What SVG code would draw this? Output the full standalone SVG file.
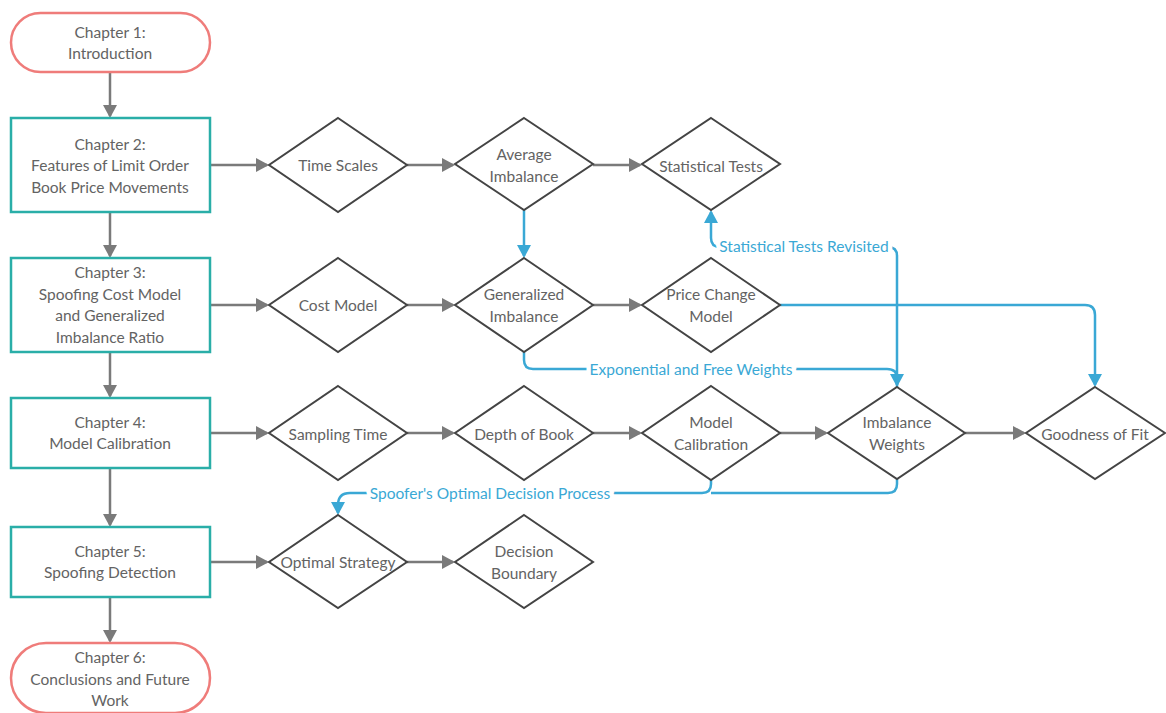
<svg xmlns="http://www.w3.org/2000/svg" width="1166" height="713" viewBox="0 0 1166 713">
<defs>
<style>
.pill{fill:#fff;stroke:#ef7c7a;stroke-width:2.5}
.box{fill:#fff;stroke:#2aaea8;stroke-width:2.5}
.dia{fill:#fff;stroke:#444;stroke-width:2}
.t{font-family:Lato,"Liberation Sans",sans-serif;font-size:15.5px;fill:#636363;text-anchor:middle}
.g{fill:none;stroke:#7a7a7a;stroke-width:2.5;marker-end:url(#ag)}
.b{fill:none;stroke:#3aa8d5;stroke-width:2.5}
.ba{marker-end:url(#ab)}
.bl{font-family:Lato,"Liberation Sans",sans-serif;font-size:15.5px;fill:#3aa8d5;text-anchor:middle;stroke:#fff;stroke-width:9;stroke-linejoin:round;paint-order:stroke}
</style>
<marker id="ag" markerUnits="userSpaceOnUse" markerWidth="14" markerHeight="14" refX="11" refY="7" orient="auto"><path d="M0,0 L13,7 L0,14 z" fill="#7a7a7a"/></marker>
<marker id="ab" markerUnits="userSpaceOnUse" markerWidth="14" markerHeight="14" refX="11" refY="7" orient="auto"><path d="M0,0 L13,7 L0,14 z" fill="#3aa8d5"/></marker>
</defs>
<rect width="1166" height="713" fill="#fff"/>
<g id="connectors">
<path class="g" d="M110,72 V116"/>
<path class="g" d="M110,212 V256"/>
<path class="g" d="M110,352 V396"/>
<path class="g" d="M110,468 V525"/>
<path class="g" d="M110,597 V641"/>
<path class="g" d="M210,165 H267"/>
<path class="g" d="M407,165 H453"/>
<path class="g" d="M593,165 H640"/>
<path class="g" d="M210,305 H267"/>
<path class="g" d="M407,305 H453"/>
<path class="g" d="M593,305 H640"/>
<path class="g" d="M210,433 H267"/>
<path class="g" d="M407,433 H453"/>
<path class="g" d="M593,433 H640"/>
<path class="g" d="M780,433 H826"/>
<path class="g" d="M965,433 H1024"/>
<path class="g" d="M210,562 H267"/>
<path class="g" d="M407,562 H453"/>
<path class="b ba" d="M524,210 V256"/>
<path class="b ba" d="M524,352 V360 Q524,369 533,369 H887 Q897,369 897,378 V385"/>
<path class="b ba" d="M897,387 V256 Q897,247 888,247 H720 Q711,247 711,238 V212"/>
<path class="b ba" d="M780,305 H1085 Q1095,305 1095,315 V385"/>
<path class="b" d="M897,479 V484 Q897,493 888,493 H711"/>
<path class="b ba" d="M711,480 V484 Q711,493 702,493 H350 Q338,493 338,505 V513"/>
<text class="bl" x="804" y="252">Statistical Tests Revisited</text>
<text class="bl" x="691" y="375">Exponential and Free Weights</text>
<text class="bl" x="490" y="499">Spoofer's Optimal Decision Process</text>
</g>
<g id="ch1"><rect class="pill" x="11" y="13" width="199" height="59" rx="29.5"/><text class="t" x="110" y="37.5">Chapter 1:</text><text class="t" x="110" y="59">Introduction</text></g>
<g id="ch2"><rect class="box" x="11" y="118" width="199" height="94"/><text class="t" x="110" y="149.5">Chapter 2:</text><text class="t" x="110" y="171">Features of Limit Order</text><text class="t" x="110" y="192.5">Book Price Movements</text></g>
<g id="ch3"><rect class="box" x="11" y="258" width="199" height="94"/><text class="t" x="110" y="278">Chapter 3:</text><text class="t" x="110" y="299.5">Spoofing Cost Model</text><text class="t" x="110" y="321">and Generalized</text><text class="t" x="110" y="342.5">Imbalance Ratio</text></g>
<g id="ch4"><rect class="box" x="11" y="398" width="199" height="70"/><text class="t" x="110" y="427.5">Chapter 4:</text><text class="t" x="110" y="449">Model Calibration</text></g>
<g id="ch5"><rect class="box" x="11" y="527" width="199" height="70"/><text class="t" x="110" y="556.5">Chapter 5:</text><text class="t" x="110" y="578">Spoofing Detection</text></g>
<g id="ch6"><rect class="pill" x="11" y="643" width="199" height="70" rx="35"/><text class="t" x="110" y="663">Chapter 6:</text><text class="t" x="110" y="684.5">Conclusions and Future</text><text class="t" x="110" y="706">Work</text></g>
<g id="time-scales"><path class="dia" d="M338,118 L407,165 L338,212 L269,165 z"/><text class="t" x="338" y="171">Time Scales</text></g>
<g id="average-imbalance"><path class="dia" d="M524,118 L593,164 L524,210 L455,164 z"/><text class="t" x="524" y="160">Average</text><text class="t" x="524" y="182">Imbalance</text></g>
<g id="statistical-tests"><path class="dia" d="M711,118 L780,164 L711,210 L642,164 z"/><text class="t" x="711" y="172">Statistical Tests</text></g>
<g id="cost-model"><path class="dia" d="M338,258 L407,305 L338,352 L269,305 z"/><text class="t" x="338" y="311">Cost Model</text></g>
<g id="generalized-imbalance"><path class="dia" d="M524,258 L593,305 L524,352 L455,305 z"/><text class="t" x="524" y="300">Generalized</text><text class="t" x="524" y="322">Imbalance</text></g>
<g id="price-change-model"><path class="dia" d="M711,258 L780,305 L711,352 L642,305 z"/><text class="t" x="711" y="300">Price Change</text><text class="t" x="711" y="322">Model</text></g>
<g id="sampling-time"><path class="dia" d="M338,386 L407,433 L338,480 L269,433 z"/><text class="t" x="338" y="440">Sampling Time</text></g>
<g id="depth-of-book"><path class="dia" d="M524,386 L593,433 L524,480 L455,433 z"/><text class="t" x="524" y="440">Depth of Book</text></g>
<g id="model-calibration"><path class="dia" d="M711,386 L780,433 L711,480 L642,433 z"/><text class="t" x="711" y="428">Model</text><text class="t" x="711" y="450">Calibration</text></g>
<g id="imbalance-weights"><path class="dia" d="M897,387 L965,433 L897,479 L828,433 z"/><text class="t" x="897" y="428">Imbalance</text><text class="t" x="897" y="450">Weights</text></g>
<g id="goodness-of-fit"><path class="dia" d="M1095,387 L1165,433 L1095,479 L1026,433 z"/><text class="t" x="1095" y="440">Goodness of Fit</text></g>
<g id="optimal-strategy"><path class="dia" d="M338,515 L407,562 L338,608 L269,562 z"/><text class="t" x="338" y="568">Optimal Strategy</text></g>
<g id="decision-boundary"><path class="dia" d="M524,515 L593,562 L524,608 L455,562 z"/><text class="t" x="524" y="557">Decision</text><text class="t" x="524" y="579">Boundary</text></g>
</svg>
